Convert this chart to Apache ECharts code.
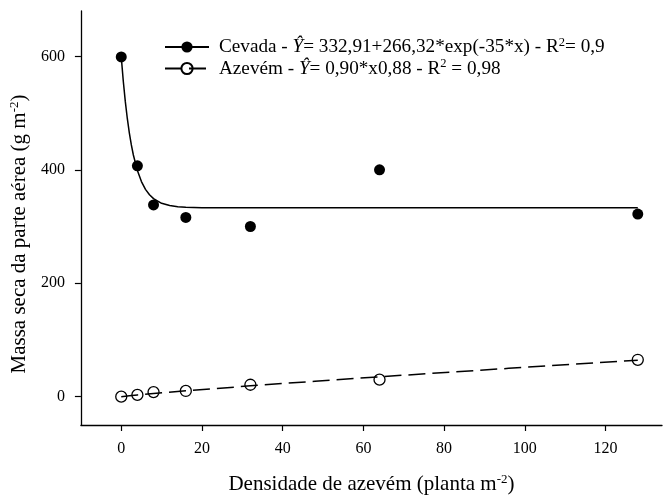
<!DOCTYPE html>
<html>
<head>
<meta charset="utf-8">
<script src="https://cdn.jsdelivr.net/npm/echarts@6/dist/echarts.min.js"></script>
<style>html,body{margin:0;padding:0;background:#fff}#c{width:663px;height:500px}</style>
</head>
<body>
<div id="c"></div>
<script>
// Observed data
var densities = [0, 4, 8, 16, 32, 64, 128];
var cevadaObs = [599, 407, 338, 316, 300, 400, 322];
var azevemObs = [0, 3, 8, 10, 21, 30, 65];
// Fitted curves
var cevadaFitX = [0, 0.5, 1, 1.5, 2, 2.5, 3, 4, 5, 6, 7, 8, 10, 12, 14, 16, 20, 25, 128];
var cevadaFitY = [599.2, 556.5, 520.6, 490.5, 465.2, 443.9, 426.1, 398.6, 379.2, 365.5, 355.9, 349.1, 340.9, 336.9, 334.9, 333.9, 333.2, 333.0, 332.9];
var azevemFitX = [0, 1, 2, 4, 8, 16, 32, 48, 64, 96, 128];
var azevemFitY = [0, 0.9, 1.7, 3.1, 5.6, 10.3, 19.0, 27.2, 35.0, 49.9, 64.3];
// Tick labels
var xTicks = [0, 20, 40, 60, 80, 100, 120];
var yTicks = [0, 200, 400, 600];

function pairs(xs, ys) { return xs.map(function (x, i) { return [x, ys[i]]; }); }

var FONT = 'Liberation Serif';
var chart = echarts.init(document.getElementById('c'), null, { renderer: 'canvas' });
chart.setOption({
  animation: false,
  backgroundColor: '#fff',
  textStyle: { fontFamily: FONT, color: '#000' },
  grid: { left: 80, right: 1, top: 11, bottom: 68, containLabel: false },
  legend: {
    orient: 'vertical',
    left: 159, top: 31,
    itemWidth: 44, itemHeight: 14, itemGap: 1,
    data: ['Cevada', 'Azevém'],
    formatter: function (name) {
      if (name === 'Cevada') return 'Cevada - {i|Ŷ}= 332,91+266,32*exp(-35*x) - R{sup|2}= 0,9';
      return 'Azevém - {i|Ŷ}= 0,90*x0,88 - R{sup|2} = 0,98';
    },
    textStyle: {
      fontFamily: FONT, fontSize: 19.2, color: '#000', padding: [0, 0, 0, 5],
      rich: {
        i: { fontFamily: FONT, fontStyle: 'italic', fontSize: 19.2, color: '#000' },
        sup: { fontFamily: FONT, fontSize: 12.5, color: '#000', padding: [0, 0, 9, 0] }
      }
    }
  },
  xAxis: {
    type: 'value', min: -10, max: 134,
    splitLine: { show: false },
    axisLine: { onZero: false, lineStyle: { color: '#000', width: 1.3 } },
    axisTick: { customValues: xTicks, length: 6, lineStyle: { color: '#000', width: 1.2 } },
    axisLabel: { customValues: xTicks, margin: 16, fontFamily: FONT, fontSize: 16, color: '#000' },
    name: 'Densidade de azevém (planta m{sup|-2})',
    nameLocation: 'middle', nameGap: 48,
    nameTextStyle: {
      fontFamily: FONT, fontSize: 21, color: '#000',
      rich: { sup: { fontFamily: FONT, fontSize: 13, color: '#000', padding: [0, 0, 10, 0] } }
    }
  },
  yAxis: {
    type: 'value', min: -50, max: 680,
    splitLine: { show: false },
    axisLine: { onZero: false, lineStyle: { color: '#000', width: 1.3 } },
    axisTick: { customValues: yTicks, length: 6, lineStyle: { color: '#000', width: 1.2 } },
    axisLabel: { customValues: yTicks, margin: 16, fontFamily: FONT, fontSize: 16, color: '#000' },
    name: 'Massa seca da parte aérea (g m{sup|-2})',
    nameLocation: 'middle', nameGap: 48, nameRotate: 90,
    nameTextStyle: {
      fontFamily: FONT, fontSize: 21, color: '#000', padding: [0, 32, 0, 0],
      rich: { sup: { fontFamily: FONT, fontSize: 13, color: '#000', padding: [0, 0, 10, 0] } }
    }
  },
  series: [
    {
      name: 'Cevada', type: 'line', data: pairs(cevadaFitX, cevadaFitY),
      showSymbol: false, symbol: 'circle', symbolSize: 11, smooth: false,
      itemStyle: { color: '#000' },
      lineStyle: { color: '#000', width: 1.5 }, z: 2
    },
    {
      name: 'Azevém', type: 'line', data: pairs(azevemFitX, azevemFitY),
      showSymbol: false, symbol: 'circle', symbolSize: 11, smooth: false,
      itemStyle: { color: 'rgba(0,0,0,0)', borderColor: '#000', borderWidth: 1.3 },
      lineStyle: { color: '#000', width: 1.5, type: [17, 7] }, z: 2
    },
    {
      name: 'Cevada obs', type: 'scatter', data: pairs(densities, cevadaObs),
      symbol: 'circle', symbolSize: 11, itemStyle: { color: '#000', opacity: 1 }, z: 3
    },
    {
      name: 'Azevém obs', type: 'scatter', data: pairs(densities, azevemObs),
      symbol: 'circle', symbolSize: 11,
      itemStyle: { color: 'rgba(0,0,0,0)', borderColor: '#000', borderWidth: 1.3, opacity: 1 }, z: 3
    }
  ]
});
</script>
</body>
</html>
